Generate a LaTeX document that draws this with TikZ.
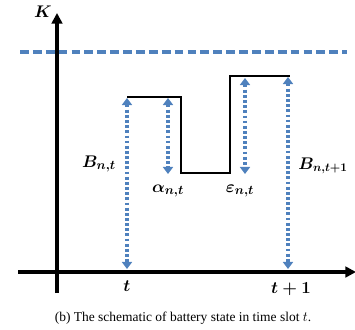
\documentclass[tikz,border=0pt]{standalone}
\usepackage{fontspec}
\setmainfont{Liberation Serif}
\usetikzlibrary{arrows.meta,positioning}
\definecolor{axisblack}{HTML}{000000}
\definecolor{levelblue}{HTML}{4F81BD}

\tikzset{
  axisline/.style={axisblack, line width=3.2pt, -{Triangle[length=9pt,width=9pt]}},
  profile/.style={axisblack, line width=2.2pt},
  capline/.style={levelblue, line width=2.6pt, dash pattern=on 7.5pt off 3.5pt},
  gauge/.style={levelblue, line width=2.6pt, dash pattern=on 2.4pt off 2pt,
    {Triangle[length=6pt,width=8.5pt]}-{Triangle[length=6pt,width=8.5pt]}},
  sym/.style={font=\fontsize{15.5}{18}\selectfont\boldmath}
}

\begin{document}
\begin{tikzpicture}[x=0.03cm, y=-0.03cm]
  \useasboundingbox (0,0) rectangle (355,330);

  % axes
  \coordinate (ybot) at (57,293);
  \coordinate (ytop) at (57,13);
  \coordinate (xleft) at (18,272);
  \coordinate (xright) at (356,272);
  \draw[axisline] (ybot) -- (ytop);
  \draw[axisline] (xleft) -- (xright);

  % capacity level
  \coordinate (capl) at (20,52);
  \coordinate (capr) at (347,52);
  \draw[capline] (capl) -- (capr);

  % battery level in the slot
  \draw[profile] (127,97) -- (181,97) -- (181,173) -- (230,173) -- (230,76) -- (290,76);

  % gauges
  \coordinate (bt1) at (127,98);  \coordinate (bt2) at (127,269);
  \coordinate (al1) at (168,98);  \coordinate (al2) at (168,174);
  \coordinate (ep1) at (245,78);  \coordinate (ep2) at (245,174);
  \coordinate (bn1) at (288,77);  \coordinate (bn2) at (288,269);
  \draw[gauge] (bt1) -- (bt2);
  \draw[gauge] (al1) -- (al2);
  \draw[gauge] (ep1) -- (ep2);
  \draw[gauge] (bn1) -- (bn2);

  \node[sym] (klab) at (43,12) {$K$};
  \node[sym] (blab) at (99,164) {$B_{n,t}$};
  \node[sym] (alab) at (168,191) {$\alpha_{n,t}$};
  \node[sym] (elab) at (240,191) {$\varepsilon_{n,t}$};
  \node[sym, font=\fontsize{14}{16}\selectfont\boldmath, anchor=west, inner sep=1pt]
    (nlab) at (297,166) {$B_{n,t+1}$};
  \node[sym] (tlab) at (127,286) {$t$};
  \node[sym] (t1lab) at (291,289) {$t+1$};

  \node[font=\fontsize{11.5}{13}\selectfont] (cap) at (183,318)
    {(b) The schematic of battery state in time slot $t$.};
\end{tikzpicture}
\end{document}
